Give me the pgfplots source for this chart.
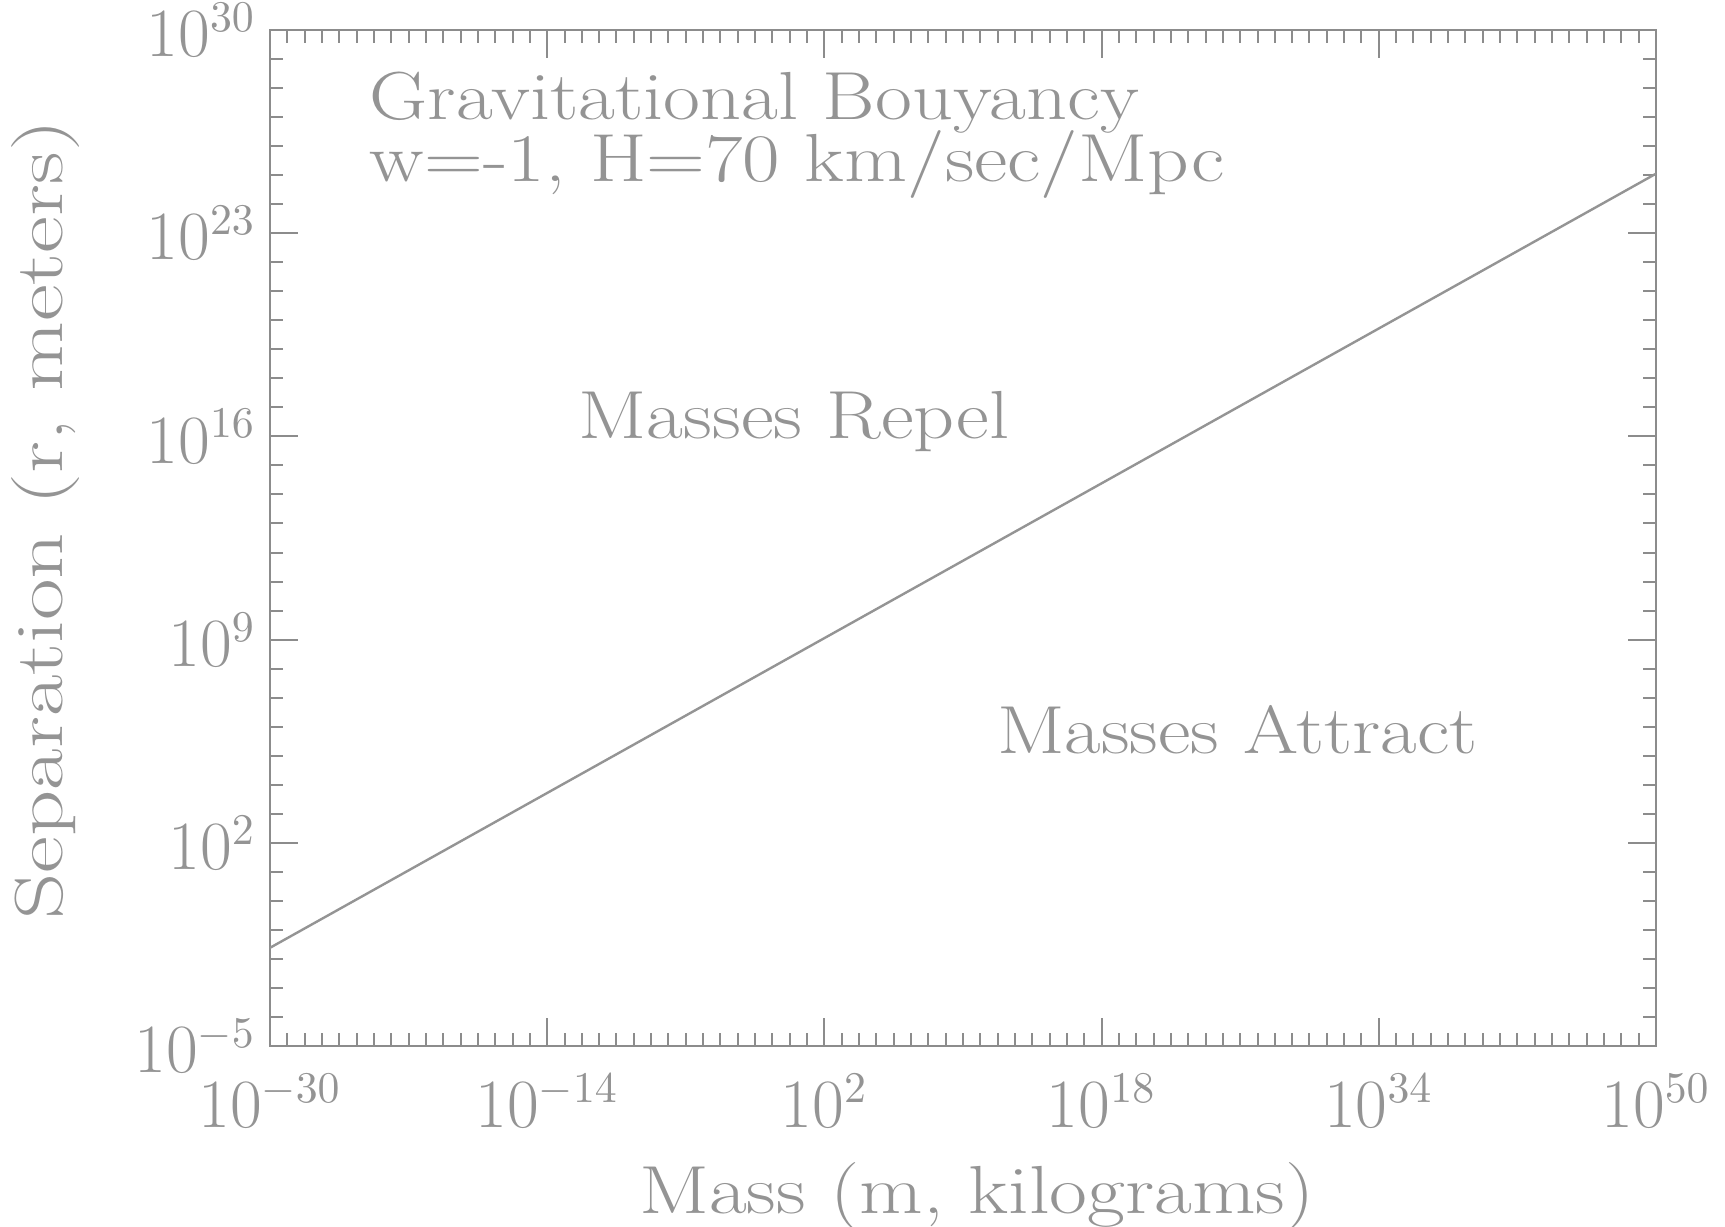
\documentclass[border=0pt]{standalone}
\usepackage{pgfplots}
\pgfplotsset{compat=1.18}
\definecolor{txt}{gray}{0.58}
\definecolor{axc}{gray}{0.55}
\newcommand{\wide}[2]{\scalebox{#1}[1]{#2}}
\begin{document}
\begin{tikzpicture}
\begin{axis}[
 scale only axis, width=346.5pt, height=254pt,
 xmode=log, ymode=log,
 xmin=1e-30,xmax=1e50,ymin=1e-5,ymax=1e30,
 xtick={1e-30,1e-14,1e2,1e18,1e34,1e50},
 ytick={1e-5,1e2,1e9,1e16,1e23,1e30},
 minor xtick={1e-29,1e-28,1e-27,1e-26,1e-25,1e-24,1e-23,1e-22,1e-21,1e-20,1e-19,1e-18,1e-17,1e-16,1e-15,1e-13,1e-12,1e-11,1e-10,1e-9,1e-8,1e-7,1e-6,1e-5,1e-4,1e-3,1e-2,1e-1,1,1e1,1e3,1e4,1e5,1e6,1e7,1e8,1e9,1e10,1e11,1e12,1e13,1e14,1e15,1e16,1e17,1e19,1e20,1e21,1e22,1e23,1e24,1e25,1e26,1e27,1e28,1e29,1e30,1e31,1e32,1e33,1e35,1e36,1e37,1e38,1e39,1e40,1e41,1e42,1e43,1e44,1e45,1e46,1e47,1e48,1e49},
 minor ytick={1e-4,1e-3,1e-2,1e-1,1,1e1,1e3,1e4,1e5,1e6,1e7,1e8,1e10,1e11,1e12,1e13,1e14,1e15,1e17,1e18,1e19,1e20,1e21,1e22,1e24,1e25,1e26,1e27,1e28,1e29},
 tick align=inside,
 major tick length=7pt, minor tick length=3.3pt,
 axis line style={axc, line width=0.6pt},
 every tick/.style={axc, line width=0.5pt},
 tick label style={txt, font=\fontsize{16}{19}\selectfont},
 xticklabel style={yshift=-3.5pt},
 xlabel={\wide{1.21}{Mass (m, kilograms)}}, ylabel={\wide{1.33}{Separation (r, meters)}},
 label style={txt, font=\fontsize{17}{20}\selectfont},
 xlabel style={at={(axis description cs:0.51,-0.1486)}, anchor=center},
 ylabel style={at={(axis description cs:-0.162,0.518)}, anchor=center},
]
\addplot[txt, line width=0.6pt] coordinates {
(1e-30,2.41e-2) (1e-20,5.2e1) (1e-10,1.12e5) (1,2.42e8) (1e10,5.2e11)
(1e20,1.12e15) (1e30,2.42e18) (1e40,5.2e21) (1e50,1.12e25)};
\node[anchor=base west, inner sep=0pt, txt, font=\fontsize{17}{20}\selectfont] at (axis description cs:0.0714,0.912) {\wide{1.18}{Gravitational Bouyancy}};
\node[anchor=base west, inner sep=0pt, txt, font=\fontsize{17}{20}\selectfont] at (axis description cs:0.0714,0.851) {\wide{1.2}{w=-1, H=70 km/sec/Mpc}};
\node[anchor=base west, inner sep=0pt, txt, font=\fontsize{17}{20}\selectfont] at (axis description cs:0.222,0.598) {\wide{1.18}{Masses Repel}};
\node[anchor=base west, inner sep=0pt, txt, font=\fontsize{17}{20}\selectfont] at (axis description cs:0.524,0.288) {\wide{1.17}{Masses Attract}};
\end{axis}
\pgfresetboundingbox
\path (-67.5pt,-45.25pt) rectangle (363.75pt,261.5pt);
\end{tikzpicture}
\end{document}
